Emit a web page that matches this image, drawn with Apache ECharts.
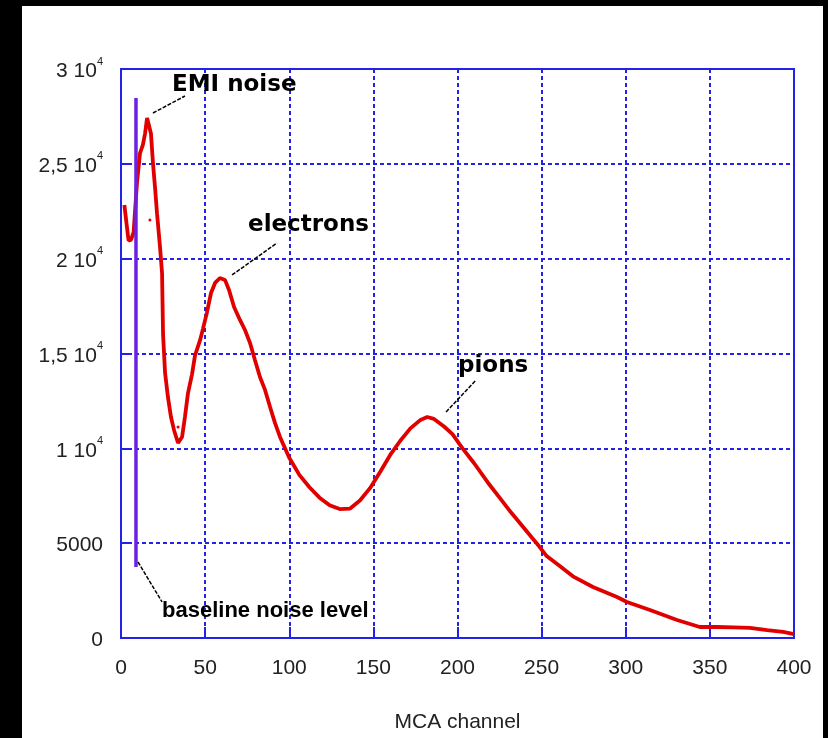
<!DOCTYPE html>
<html>
<head>
<meta charset="utf-8">
<script src="https://cdn.jsdelivr.net/npm/echarts@6/dist/echarts.min.js"></script>
<style>
  html, body { margin: 0; padding: 0; background: #000; }
  #wrap { position: relative; width: 828px; height: 738px; background: #000; overflow: hidden; }
  #paper { position: absolute; left: 22px; top: 6px; width: 801px; height: 732px; background: #fff; }
  #chart { position: absolute; left: 0; top: 0; width: 828px; height: 738px; }
</style>
</head>
<body>
<div id="wrap"><div id="paper"></div><div id="chart"></div></div>
<script>
// ---- data ----
const channels = [2, 3, 3.5, 4.5, 6, 7.5, 9.5, 11.3, 13, 14.3, 15.5, 16.6, 17.8, 19, 20.2, 21.4, 23.2, 24.4, 25, 25.6,
  26.2, 27.9, 29.7, 31.5, 33.9, 36.3, 38, 39.8, 42.2, 44, 47, 48.7, 51, 53.5, 55.9, 58.8, 61.8, 64.2, 67.2, 70.7,
  73.7, 76.7, 79.6, 82.6, 85.6, 88.6, 91.5, 94.5, 100, 106, 112, 118, 124, 130, 136, 142, 148, 154, 160, 166,
  172, 178, 182, 186, 192, 197, 203, 210, 218, 225, 232, 240, 247, 253, 260, 268.6, 280.5, 294.8, 300.7, 314.4,
  330.5, 344, 354, 364, 373.8, 384, 393.5, 400];
const counts = [22830, 22830, 21700, 20950, 21000, 21400, 24000, 25570, 26000, 26600, 27420, 27420, 26600, 25040, 23780, 22400, 20600, 19240, 16000, 15000,
  13970, 12700, 11650, 10970, 10280, 10600, 11650, 12900, 13900, 14900, 15700, 16300, 17130, 18190, 18720, 18980, 18880, 18350, 17450, 16770,
  16240, 15550, 14660, 13760, 13080, 12180, 11340, 10600, 9500, 8600, 7950, 7400, 7000, 6800, 6820, 7250, 7900, 8750, 9650, 10400,
  11050, 11500, 11650, 11550, 11150, 10750, 10000, 9200, 8200, 7400, 6600, 5750, 5000, 4320, 3850, 3250, 2690, 2160, 1900, 1480,
  950, 580, 580, 560, 530, 420, 320, 210];
// stray single points
const strayChannels = [17.2, 33.9];
const strayCounts = [22040, 11120];
// baseline noise marker (vertical line)
const baselineChannels = [8.9, 8.9];
const baselineCounts = [3750, 28470];
// axis ticks
const xTickValues = [0, 50, 100, 150, 200, 250, 300, 350, 400];
const yTickValues = [0, 5000, 10000, 15000, 20000, 25000, 30000];
const yTickLabels = ['0', '5000', '1 10^4', '1,5 10^4', '2 10^4', '2,5 10^4', '3 10^4'];
const xAxisTitle = 'MCA channel';
// annotations
const annoTexts = ['EMI noise', 'electrons', 'pions', 'baseline noise level'];
const annoX = [30.3, 75.5, 200.3, 24.4];
const annoY = [29150, 21775, 14340, 1450];
const leaderFromX = [19.0, 66.0, 193.2, 10.1];
const leaderFromY = [27680, 19140, 11915, 4007];
const leaderToX = [38.0, 92.7, 211.0, 24.4];
const leaderToY = [28575, 20826, 13600, 1900];

const BLUE = '#2323e8';
const chart = echarts.init(document.getElementById('chart'), null, { renderer: 'canvas' });

const yLabelMap = {};
yTickValues.forEach((v, i) => { yLabelMap[v] = yTickLabels[i]; });

const option = {
  backgroundColor: 'transparent',
  animation: false,
  grid: { left: 121, right: 34, top: 69, bottom: 100, show: true, borderColor: BLUE, borderWidth: 2, backgroundColor: 'transparent' },
  xAxis: {
    type: 'value', min: xTickValues[0], max: xTickValues[xTickValues.length - 1], interval: 50,
    name: xAxisTitle, nameLocation: 'middle', nameGap: 74,
    nameTextStyle: { fontFamily: 'Liberation Sans', fontSize: 21, color: '#222' },
    axisLine: { show: true, lineStyle: { color: BLUE, width: 2 } },
    axisTick: { show: true, inside: true, length: 11, lineStyle: { color: BLUE, width: 2 } },
    axisLabel: { fontFamily: 'Liberation Sans', fontSize: 21, color: '#222', margin: 20 },
    splitLine: { show: true, lineStyle: { color: BLUE, width: 2, type: [4, 3] } }
  },
  yAxis: {
    type: 'value', min: yTickValues[0], max: yTickValues[yTickValues.length - 1], interval: 5000,
    axisLine: { show: true, lineStyle: { color: BLUE, width: 2 } },
    axisTick: { show: true, inside: true, length: 11, lineStyle: { color: BLUE, width: 2 } },
    axisLabel: {
      margin: 18, color: '#222', fontFamily: 'Liberation Sans', fontSize: 21,
      formatter: function (v) {
        const s = yLabelMap[v] || String(v);
        const parts = s.split('^');
        if (parts.length === 2) return '{b|' + parts[0] + '}{s|' + parts[1] + '}';
        return '{b|' + s + '}';
      },
      rich: {
        b: { fontFamily: 'Liberation Sans', fontSize: 21, color: '#222', verticalAlign: 'bottom', lineHeight: 26 },
        s: { fontFamily: 'Liberation Sans', fontSize: 11, color: '#222', verticalAlign: 'top', lineHeight: 12 }
      }
    },
    splitLine: { show: true, lineStyle: { color: BLUE, width: 2, type: [4, 3] } }
  },
  series: [
    {
      type: 'line', name: 'spectrum', z: 3,
      data: channels.map((c, i) => [c, counts[i]]),
      showSymbol: false, symbol: 'none',
      lineStyle: { color: '#e00000', width: 3.8 }
    },
    {
      type: 'scatter', name: 'stray', z: 3,
      data: strayChannels.map((c, i) => [c, strayCounts[i]]),
      symbolSize: 3, itemStyle: { color: '#e00000', opacity: 1 }
    },
    {
      type: 'line', name: 'baseline', z: 5,
      data: baselineChannels.map((c, i) => [c, baselineCounts[i]]),
      showSymbol: false, symbol: 'none',
      lineStyle: { color: '#6a22e0', width: 3.5 }
    },
    {
      type: 'lines', coordinateSystem: 'cartesian2d', z: 6,
      data: annoTexts.map((t, i) => ({ coords: [[leaderFromX[i], leaderFromY[i]], [leaderToX[i], leaderToY[i]]] })),
      lineStyle: { color: '#000', width: 1.5, type: [4, 1.5], opacity: 1 },
      symbol: 'none'
    },
    {
      type: 'scatter', z: 7, symbolSize: 0, silent: true,
      itemStyle: { opacity: 1 },
      data: annoTexts.map((t, i) => ({
        value: [annoX[i], annoY[i]], name: t,
        label: i === 3
          ? { fontFamily: 'Liberation Sans', fontSize: 22, color: '#000', fontWeight: 'bold', opacity: 1 }
          : { fontFamily: 'DejaVu Sans', fontSize: 23, color: '#000', fontWeight: 'bold', opacity: 1 }
      })),
      label: {
        show: true, position: 'right', distance: 0, opacity: 1,
        formatter: p => p.name,
        fontFamily: 'DejaVu Sans', fontWeight: 'bold', fontSize: 23, color: '#000',
        textBorderWidth: 0
      },
      labelLayout: { hideOverlap: false }
    }
  ]
};
chart.setOption(option);
</script>
</body>
</html>
